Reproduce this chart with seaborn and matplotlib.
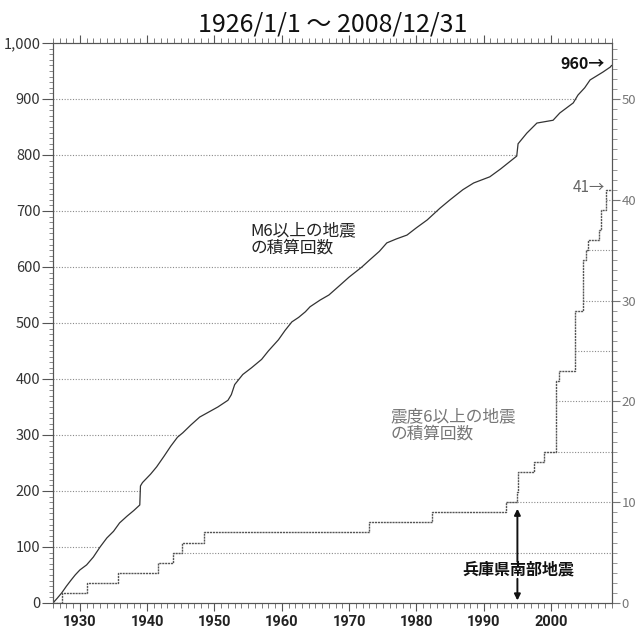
import numpy as np
import matplotlib
matplotlib.use('Agg')
import matplotlib.pyplot as plt
from matplotlib.ticker import MultipleLocator, FuncFormatter
import seaborn as sns

# M6以上の地震の積算回数
m6_year = [1926.0, 1926.6, 1927.3, 1928.0, 1928.7, 1929.3, 1930.0, 1931.0, 1932.0, 1933.0,
           1934.0, 1935.0, 1935.9, 1937.0, 1938.0, 1938.9, 1939.0, 1939.3, 1940.5, 1941.4,
           1942.5, 1943.5, 1944.5, 1945.3, 1946.5, 1947.8, 1949.0, 1950.5, 1952.0, 1952.5,
           1953.0, 1954.2, 1955.5, 1957.0, 1958.0, 1959.5, 1960.5, 1961.5, 1962.5, 1963.5,
           1964.2, 1965.7, 1967.0, 1968.6, 1970.0, 1971.9, 1973.0, 1974.5, 1975.6, 1977.0,
           1978.6, 1980.0, 1981.6, 1983.5, 1985.0, 1986.9, 1988.5, 1990.9, 1992.5, 1994.9,
           1995.1, 1996.4, 1997.9, 2000.3, 2001.3, 2003.3, 2004.0, 2005.0, 2005.8, 2007.7,
           2008.8, 2009.0]
m6_count = [0, 8, 18, 30, 41, 50, 59, 68, 82, 100,
            116, 128, 143, 155, 165, 175, 209, 215, 230, 243,
            262, 280, 296, 304, 318, 332, 340, 350, 362, 372,
            390, 408, 420, 435, 450, 470, 487, 502, 510, 520,
            529, 541, 550, 567, 582, 600, 612, 628, 643, 650,
            657, 670, 684, 705, 720, 738, 750, 761, 775, 798,
            820, 839, 857, 862, 875, 893, 907, 920, 934, 948,
            957, 960]

# 震度6以上の地震の積算回数
shindo_year = [1926.0, 1927.3, 1931.0, 1935.7, 1941.6, 1943.8, 1945.1, 1948.4, 1973.0, 1982.3,
               1993.3, 1995.0, 1995.1, 1997.5, 1998.9, 2000.7, 2000.8, 2001.2, 2003.6, 2004.8,
               2005.2, 2005.5, 2007.1, 2007.4, 2008.2, 2009.0]
shindo_count = [0, 1, 2, 3, 4, 5, 6, 7, 8, 9,
                10, 11, 13, 14, 15, 21, 22, 23, 29, 34,
                35, 36, 37, 39, 41, 41]

left_grid = [100, 200, 300, 400, 500, 600, 700, 800, 900]
right_grid = [5, 10, 15, 20, 25, 30, 35, 40]
decades = [1930, 1940, 1950, 1960, 1970, 1980, 1990, 2000]

sns.set_style('ticks')
plt.rcParams['font.family'] = ['Noto Sans CJK JP', 'DejaVu Sans']

fig = plt.figure(figsize=(6.38, 6.31), dpi=100)
ax = fig.add_axes([0.083, 0.0444, 0.8762, 0.8875])
ax2 = ax.twinx()

x0, x1 = 1926.0, 2009.05
ax.set_xlim(x0, x1)
ax.set_ylim(0, 1000)
ax2.set_ylim(0, 1000 * 50 / 900)

grid_kw = dict(color='#8a8a8a', lw=0.8, linestyle=(0, (1, 1.5)), zorder=1)
# left grid runs from the axis to the M6 curve
for v in left_grid:
    ax.hlines(v, x0, np.interp(v, m6_count, m6_year), **grid_kw)
# right grid runs from the step curve to the right axis
sy = np.array(shindo_year)
sc = np.array(shindo_count)
for v in right_grid:
    ax2.hlines(v, sy[np.argmax(sc >= v)], x1, **grid_kw)

sns.lineplot(x=m6_year, y=m6_count, ax=ax, color='#333333', lw=0.9, zorder=3)
sns.lineplot(x=shindo_year, y=shindo_count, ax=ax2, color='#555555', lw=1.0,
             drawstyle='steps-post', linestyle=(0, (1.5, 0.6)), zorder=3)

# ticks
ax.xaxis.set_minor_locator(MultipleLocator(1))
ax.set_xticks(decades)
ax.set_xticklabels([str(d) for d in decades], fontfamily='Roboto', fontweight='bold',
                   fontsize=10.5, color='#222222')
ax.yaxis.set_major_locator(MultipleLocator(100))
ax.yaxis.set_minor_locator(MultipleLocator(10))
ax.yaxis.set_major_formatter(FuncFormatter(lambda v, p: f'{v:,.0f}'))
ax2.yaxis.set_major_locator(MultipleLocator(10))
ax2.yaxis.set_minor_locator(MultipleLocator(1))

ax.tick_params(axis='x', which='major', direction='out', length=6, width=0.8,
               top=True, bottom=True, pad=3, color='#555555')
ax.tick_params(axis='x', which='minor', direction='out', length=3.5, width=0.6,
               top=True, bottom=True, color='#666666')
ax.tick_params(axis='y', which='major', direction='out', length=8, width=0.8,
               labelsize=10.5, labelcolor='#333333', pad=1, color='#555555')
ax.tick_params(axis='y', which='minor', direction='out', length=3, width=0.6, color='#777777')
ax2.tick_params(axis='y', which='major', direction='out', length=6, width=0.8,
                labelsize=9.5, labelcolor='#777777', pad=1, color='#777777')
ax2.tick_params(axis='y', which='minor', direction='out', length=3.5, width=0.6, color='#888888')

for a in (ax, ax2):
    for s in a.spines.values():
        s.set_color('#555555')
        s.set_linewidth(0.8)
    a.set_xlabel('')
    a.set_ylabel('')

ax.set_title('1926/1/1 ～ 2008/12/31', fontsize=18, pad=8, color='#111111')

# labels
ax.text(1955.3, 680, 'M6以上の地震\nの積算回数', fontsize=12, color='#222222',
        va='top', ha='left', linespacing=1.0)
ax.text(1976.1, 348, '震度6以上の地震\nの積算回数', fontsize=12, color='#777777',
        va='top', ha='left', linespacing=1.0)
ax.text(2008.0, 962, '960→', fontsize=11.5, fontweight='bold', color='#111111',
        ha='right', va='center')
ax2.text(2008.0, 41.2, '41→', fontsize=11, color='#666666', ha='right', va='center')

ax.text(1995.1, 59, '兵庫県南部地震', fontsize=11.5, fontweight='bold', color='#111111',
        ha='center', va='center')
arrow_kw = dict(arrowstyle='-|>', color='#111111', lw=1.4, mutation_scale=9,
                shrinkA=0, shrinkB=0)
ax2.annotate('', xy=(1995.0, 9.35), xytext=(1995.0, 4.1), arrowprops=arrow_kw)
ax2.annotate('', xy=(1995.0, 0.25), xytext=(1995.0, 2.4), arrowprops=arrow_kw)

fig.savefig('out.png', dpi=100)
